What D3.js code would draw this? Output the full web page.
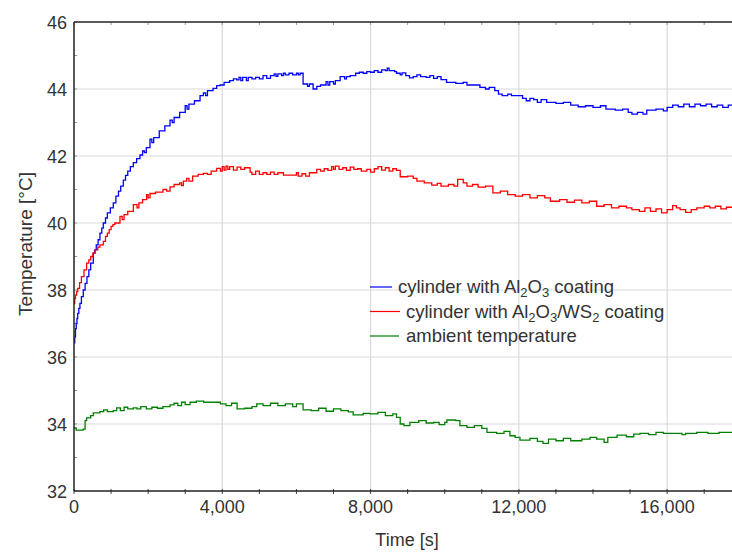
<!DOCTYPE html>
<html><head><meta charset="utf-8">
<script src="https://cdn.jsdelivr.net/npm/d3@7"></script>
<style>
html,body{margin:0;padding:0;background:#fff;}
svg{display:block;font-family:"Liberation Sans",Arial,sans-serif;}
</style></head>
<body><svg id="c" width="732" height="552"></svg>
<script>
// ---- data ----
const xTicks = [0, 4000, 8000, 12000, 16000];
const yTicks = [32, 34, 36, 38, 40, 42, 44, 46];

const timeBlue = [0,20,40,60,80,100,130,160,200,250,300,350,400,450,520,560,600,650,700,750,790,850,900,980,1060,1130,1200,1260,1330,1390,1450,1520,1600,1690,1780,1850,1900,1950,2050,2100,2150,2300,2450,2590,2650,2700,2850,3000,3050,3100,3250,3400,3490,3550,3600,3750,3850,3940,4050,4200,4300,4390,4450,4500,4550,4650,4700,4800,4900,5000,5100,5200,5300,5400,5450,5500,5600,5650,5700,5800,5900,6000,6050,6100,6180,6300,6350,6450,6550,6650,6800,6850,6900,7000,7050,7180,7300,7350,7450,7600,7700,7800,7900,8000,8100,8200,8300,8400,8450,8500,8650,8700,8800,8850,8950,9050,9150,9250,9350,9500,9600,9700,9800,9900,10050,10300,10500,10600,10800,10950,11100,11200,11350,11450,11550,11700,11800,12100,12200,12300,12400,12500,12600,12750,13000,13200,13400,13600,13800,14000,14200,14350,14600,14800,14950,15050,15200,15350,15450,15700,15900,16000,16150,16300,16450,16600,16750,16900,17050,17200,17350,17500,17650,17800];
const tempBlue = [36.42,36.6,36.85,37.0,37.15,37.3,37.45,37.6,37.8,38.0,38.2,38.4,38.6,38.8,39.1,39.2,39.35,39.5,39.7,39.85,40.0,40.15,40.3,40.45,40.6,40.8,40.95,41.1,41.28,41.42,41.55,41.68,41.8,41.92,42.03,42.15,42.1,42.25,42.5,42.4,42.55,42.75,42.9,43.07,43.0,43.15,43.3,43.5,43.4,43.55,43.65,43.8,43.88,43.8,43.95,44.02,44.1,44.12,44.2,44.25,44.3,44.27,44.35,44.25,44.35,44.25,44.35,44.3,44.35,44.3,44.4,44.32,44.4,44.45,44.38,44.45,44.4,44.47,44.42,44.47,44.42,44.47,44.42,44.47,44.15,44.08,44.15,44.0,44.08,44.12,44.22,44.12,44.22,44.15,44.25,44.37,44.3,44.37,44.4,44.47,44.5,44.47,44.52,44.5,44.55,44.5,44.57,44.55,44.62,44.55,44.52,44.47,44.42,44.48,44.4,44.33,44.37,44.42,44.37,44.35,44.4,44.32,44.37,44.28,44.2,44.17,44.2,44.12,44.12,44.05,44.0,44.05,43.95,43.85,43.8,43.85,43.8,43.72,43.65,43.72,43.68,43.6,43.68,43.6,43.57,43.6,43.52,43.47,43.5,43.45,43.5,43.4,43.37,43.4,43.3,43.25,43.3,43.25,43.37,43.4,43.35,43.45,43.52,43.47,43.55,43.47,43.55,43.5,43.55,43.47,43.52,43.45,43.52,43.5];

const timeRed = [0,20,40,70,100,150,200,270,340,400,450,510,570,640,700,790,850,900,950,1000,1050,1100,1240,1300,1350,1450,1600,1700,1750,1850,1960,2000,2050,2200,2400,2500,2590,2700,2850,2900,2950,3040,3100,3200,3350,3490,3600,3700,3850,3950,4000,4050,4100,4150,4200,4300,4400,4500,4600,4750,4800,4900,5000,5100,5200,5300,5400,5500,5650,5800,6000,6050,6150,6250,6350,6550,6650,6750,6850,6950,7000,7050,7150,7250,7350,7450,7550,7650,7750,7900,8000,8100,8200,8300,8400,8500,8600,8700,8800,9000,9150,9250,9450,9650,9800,9900,10100,10250,10350,10500,10600,10750,10900,11100,11300,11500,11700,11900,12100,12300,12500,12700,12850,13100,13300,13500,13700,13900,14100,14300,14500,14700,14900,15050,15250,15400,15550,15700,15850,16000,16150,16250,16350,16500,16650,16800,17000,17150,17300,17450,17600,17800];
const tempRed = [37.6,37.75,37.85,37.95,38.05,38.22,38.4,38.6,38.8,38.9,39.0,39.1,39.2,39.28,39.35,39.45,39.6,39.7,39.8,39.9,39.95,40.0,40.2,40.1,40.25,40.35,40.55,40.45,40.6,40.7,40.85,40.75,40.88,40.92,41.0,40.95,41.08,41.15,41.2,41.12,41.25,41.33,41.25,41.4,41.45,41.48,41.45,41.55,41.63,41.55,41.68,41.58,41.7,41.6,41.68,41.58,41.67,41.6,41.65,41.52,41.45,41.55,41.45,41.5,41.45,41.52,41.45,41.5,41.43,41.43,41.5,41.4,41.47,41.4,41.5,41.6,41.55,41.62,41.57,41.68,41.6,41.7,41.6,41.65,41.57,41.67,41.6,41.62,41.55,41.6,41.52,41.62,41.68,41.58,41.65,41.55,41.62,41.57,41.38,41.4,41.33,41.25,41.2,41.13,41.18,41.1,41.15,41.1,41.3,41.2,41.1,41.15,41.07,41.1,40.9,40.95,40.85,40.8,40.85,40.75,40.82,40.75,40.65,40.7,40.62,40.68,40.6,40.65,40.5,40.55,40.45,40.5,40.45,40.4,40.35,40.45,40.35,40.42,40.3,40.4,40.52,40.45,40.4,40.32,40.4,40.45,40.5,40.45,40.5,40.42,40.47,40.45];

const timeGreen = [0,60,250,300,340,450,520,700,800,900,1060,1150,1250,1350,1450,1600,1700,1800,1950,2100,2250,2400,2590,2700,2800,2900,3000,3130,3300,3500,3850,3950,4100,4250,4400,4600,4800,4930,5100,5300,5500,5700,5900,6000,6180,6400,6600,6800,7000,7200,7400,7530,7800,7980,8200,8400,8600,8700,8800,8900,9060,9300,9500,9700,9850,10000,10060,10300,10410,10600,10800,11000,11140,11400,11600,11760,11900,12030,12300,12500,12650,12800,13000,13200,13400,13700,13920,14100,14300,14400,14650,14900,15100,15270,15500,15700,15900,16200,16400,16500,16800,17100,17400,17800];
const tempGreen = [33.88,33.82,33.85,34.1,34.18,34.25,34.33,34.37,34.42,34.37,34.4,34.48,34.4,34.5,34.45,34.48,34.45,34.52,34.45,34.5,34.47,34.52,34.57,34.62,34.55,34.65,34.58,34.65,34.68,34.65,34.65,34.6,34.55,34.62,34.45,34.47,34.52,34.6,34.55,34.62,34.55,34.6,34.52,34.6,34.42,34.4,34.47,34.38,34.45,34.4,34.36,34.27,34.32,34.3,34.35,34.25,34.3,34.2,34.0,33.95,34.05,34.1,34.03,34.05,33.98,34.05,34.12,34.1,33.95,33.9,33.95,33.87,33.75,33.72,33.78,33.65,33.6,33.52,33.57,33.48,33.42,33.55,33.5,33.57,33.5,33.55,33.6,33.55,33.45,33.6,33.67,33.62,33.7,33.72,33.68,33.75,33.72,33.72,33.68,33.72,33.75,33.72,33.75,33.72];

const colors = ["#0000ff", "#ff0000", "#008000"];

// ---- chart ----
const svg = d3.select("#c");
const W = 732, H = 552;
const m = {left: 74, top: 22, right: 0, bottom: 61};
const x = d3.scaleLinear().domain([0, 17750]).range([m.left, W]);
const y = d3.scaleLinear().domain([32, 46]).range([H - m.bottom, m.top]);

const textColor = "#333";

// grid
svg.append("g").selectAll("line").data(xTicks.filter(d => d > 0)).join("line")
  .attr("x1", d => x(d)).attr("x2", d => x(d)).attr("y1", y(46)).attr("y2", y(32))
  .attr("stroke", "#dadada").attr("stroke-width", 1.2);
svg.append("g").selectAll("line").data(yTicks.filter(d => d > 32 && d < 46)).join("line")
  .attr("x1", x(0)).attr("x2", W).attr("y1", d => y(d)).attr("y2", d => y(d))
  .attr("stroke", "#dadada").attr("stroke-width", 1.2);

// minor ticks
const minorX = d3.range(0, 17751, 1000);
const minorY = d3.range(32, 46.01, 1);
svg.append("g").selectAll("line").data(minorX).join("line")
  .attr("x1", d => x(d)).attr("x2", d => x(d)).attr("y1", y(32) - 2).attr("y2", y(32) + 3)
  .attr("stroke", "#444").attr("stroke-width", 1);
svg.append("g").selectAll("line").data(minorX).join("line")
  .attr("x1", d => x(d)).attr("x2", d => x(d)).attr("y1", y(46)).attr("y2", y(46) + 3)
  .attr("stroke", "#999").attr("stroke-width", 1);
svg.append("g").selectAll("line").data(minorY).join("line")
  .attr("x1", x(0)).attr("x2", x(0) + 3).attr("y1", d => y(d)).attr("y2", d => y(d))
  .attr("stroke", "#999").attr("stroke-width", 1);

// series
const series = [
  {t: timeBlue, v: tempBlue},
  {t: timeRed, v: tempRed},
  {t: timeGreen, v: tempGreen}
];
const line = d3.line().curve(d3.curveStepAfter).x(d => x(d[0])).y(d => y(d[1]));
svg.append("clipPath").attr("id", "pc").append("rect")
  .attr("x", x(0)).attr("y", y(46)).attr("width", W - x(0)).attr("height", y(32) - y(46));
series.forEach((s, i) => {
  const pts = s.t.map((t, k) => [t, s.v[k]]);
  svg.append("path").attr("d", line(pts)).attr("fill", "none")
    .attr("stroke", colors[i]).attr("stroke-width", 1.3).attr("clip-path", "url(#pc)");
});

// axes frame
svg.append("line").attr("x1", x(0)).attr("x2", x(0)).attr("y1", y(46)).attr("y2", y(32))
  .attr("stroke", "#222").attr("stroke-width", 1.5);
svg.append("line").attr("x1", x(0)).attr("x2", W).attr("y1", y(32)).attr("y2", y(32))
  .attr("stroke", "#222").attr("stroke-width", 1.5);
svg.append("line").attr("x1", x(0)).attr("x2", W).attr("y1", y(46)).attr("y2", y(46))
  .attr("stroke", "#222").attr("stroke-width", 1.5);

// tick labels
const fmt = d3.format(",");
svg.append("g").selectAll("text").data(xTicks).join("text")
  .attr("x", d => x(d)).attr("y", y(32) + 22).attr("text-anchor", "middle")
  .attr("font-size", 18).attr("fill", textColor).text(d => fmt(d));
svg.append("g").selectAll("text").data(yTicks).join("text")
  .attr("x", x(0) - 7).attr("y", d => y(d) + 6.5).attr("text-anchor", "end")
  .attr("font-size", 18).attr("fill", textColor).text(d => d);

// axis titles
svg.append("text").attr("x", 407).attr("y", 546).attr("text-anchor", "middle")
  .attr("font-size", 18).attr("fill", textColor).text("Time [s]");
svg.append("text").attr("transform", `translate(32,244) rotate(-90)`)
  .attr("text-anchor", "middle").attr("font-size", 19).attr("fill", textColor).text("Temperature [°C]");

// legend
const legendRows = [
  {parts: [["cylinder with Al", 0], ["2", 1], ["O", 0], ["3", 1], [" coating", 0]], x2: 392, tx: 398},
  {parts: [["cylinder with Al", 0], ["2", 1], ["O", 0], ["3", 1], ["/WS", 0], ["2", 1], [" coating", 0]], x2: 400, tx: 406},
  {parts: [["ambient temperature", 0]], x2: 399, tx: 406}
];
const lg = svg.append("g");
legendRows.forEach((r, i) => {
  const yy = 287 + i * 24.5;
  lg.append("line").attr("x1", 370).attr("x2", r.x2).attr("y1", yy).attr("y2", yy)
    .attr("stroke", colors[i]).attr("stroke-width", 1.2);
  const t = lg.append("text").attr("x", r.tx).attr("y", yy + 6).attr("font-size", 18.5).attr("fill", textColor);
  r.parts.forEach((p, k) => {
    const prev = k > 0 ? r.parts[k - 1][1] : 0;
    const ts = t.append("tspan").text(p[0]);
    if (p[1]) ts.attr("font-size", 13);
    if (p[1] && !prev) ts.attr("dy", 4);
    if (!p[1] && prev) ts.attr("dy", -4);
  });
});
</script></body></html>
